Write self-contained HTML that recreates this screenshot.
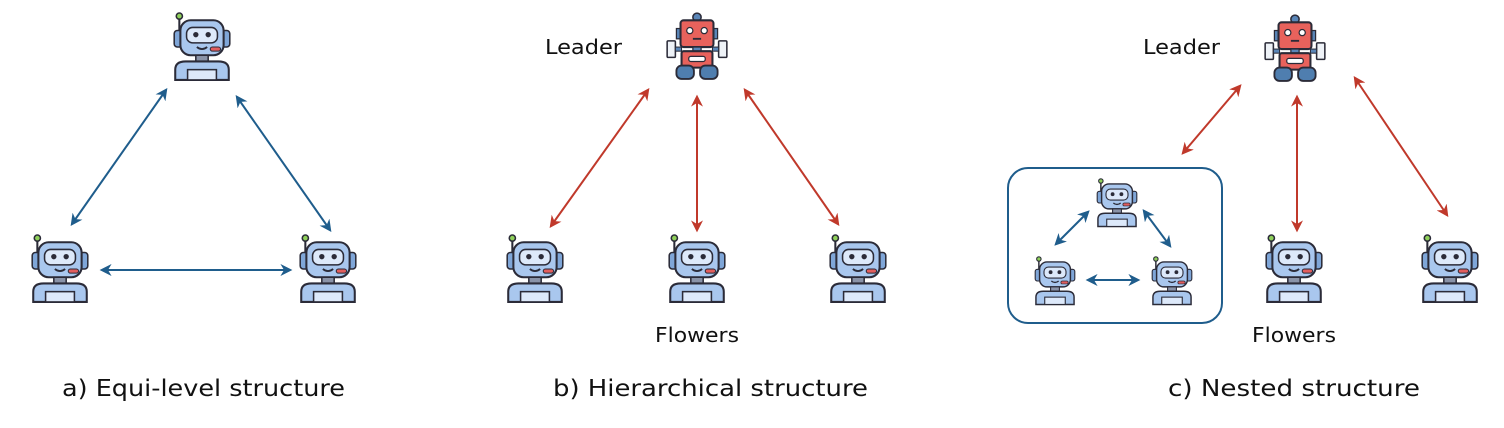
<!DOCTYPE html>
<html><head><meta charset="utf-8"><style>
html,body{margin:0;padding:0;background:#fff;}
svg{display:block}
text{font-family:"DejaVu Sans","Liberation Sans",sans-serif;fill:#111}
</style></head><body>
<svg width="1504" height="428" viewBox="0 0 1504 428" xmlns="http://www.w3.org/2000/svg">
<defs>
<marker id="ab" viewBox="0 0 10 10" refX="8" refY="5" markerWidth="6" markerHeight="6" orient="auto-start-reverse"><path d="M0,0L10,5L0,10L3,5z" fill="#1f5d8c"/></marker>
<marker id="ar" viewBox="0 0 10 10" refX="8" refY="5" markerWidth="6" markerHeight="6" orient="auto-start-reverse"><path d="M0,0L10,5L0,10L3,5z" fill="#c0392b"/></marker>
<symbol id="rb" viewBox="0 0 60 68">
<line x1="8" y1="4" x2="8" y2="18" stroke="#2b2b38" stroke-width="2"/>
<circle cx="8" cy="4" r="3" fill="#8fd05a" stroke="#2b2b38" stroke-width="1.5"/>
<rect x="3" y="18" width="8" height="16" rx="3" fill="#7fa6d8" stroke="#2b2b38" stroke-width="1.5"/>
<rect x="49" y="18" width="8" height="16" rx="3" fill="#7fa6d8" stroke="#2b2b38" stroke-width="1.5"/>
<rect x="9" y="8" width="42" height="34" rx="10" fill="#a9c7ee" stroke="#2b2b38" stroke-width="2"/>
<rect x="15" y="15" width="30" height="15" rx="6" fill="#dde9fa" stroke="#2b2b38" stroke-width="1.5"/>
<circle cx="24" cy="22" r="2.6" fill="#2b2b38"/><circle cx="36" cy="22" r="2.6" fill="#2b2b38"/>
<path d="M25 34 Q30 38 35 34" stroke="#2b2b38" stroke-width="1.8" fill="none"/>
<rect x="38" y="34" width="10" height="4" rx="2" fill="#e25d5d" stroke="#2b2b38" stroke-width="1"/>
<rect x="24" y="42" width="12" height="6" fill="#8a93a8" stroke="#2b2b38" stroke-width="1.5"/>
<path d="M4 66 V56 Q4 48 14 48 H46 Q56 48 56 56 V66 Z" fill="#a9c7ee" stroke="#2b2b38" stroke-width="2"/>
<rect x="16" y="56" width="28" height="10" fill="#dde9fa" stroke="#2b2b38" stroke-width="1.5"/>
</symbol>
<symbol id="rr" viewBox="0 0 64 68">
<circle cx="32" cy="7" r="4" fill="#5a86b8" stroke="#2b2b38" stroke-width="1.5"/>
<rect x="12" y="18" width="5" height="10" fill="#5a86b8" stroke="#2b2b38" stroke-width="1.2"/>
<rect x="47" y="18" width="5" height="10" fill="#5a86b8" stroke="#2b2b38" stroke-width="1.2"/>
<rect x="16" y="10" width="32" height="26" rx="3" fill="#e8625c" stroke="#2b2b38" stroke-width="2"/>
<circle cx="25" cy="20" r="3" fill="#fff" stroke="#2b2b38" stroke-width="1.2"/><circle cx="39" cy="20" r="3" fill="#fff" stroke="#2b2b38" stroke-width="1.2"/>
<line x1="28" y1="28" x2="36" y2="28" stroke="#2b2b38" stroke-width="1.8"/>
<rect x="28" y="36" width="8" height="4" fill="#5a86b8" stroke="#2b2b38" stroke-width="1.2"/>
<rect x="3" y="30" width="8" height="16" rx="1" fill="#eef2f7" stroke="#2b2b38" stroke-width="1.5"/>
<rect x="53" y="30" width="8" height="16" rx="1" fill="#eef2f7" stroke="#2b2b38" stroke-width="1.5"/>
<rect x="11" y="36" width="6" height="4" fill="#5a86b8" stroke="#2b2b38" stroke-width="1"/>
<rect x="47" y="36" width="6" height="4" fill="#5a86b8" stroke="#2b2b38" stroke-width="1"/>
<rect x="17" y="40" width="30" height="16" rx="2" fill="#e8625c" stroke="#2b2b38" stroke-width="2"/>
<rect x="24" y="45" width="16" height="5" rx="2" fill="#fff" stroke="#2b2b38" stroke-width="1.2"/>
<rect x="12" y="54" width="17" height="13" rx="5" fill="#4f7eaf" stroke="#2b2b38" stroke-width="1.8"/>
<rect x="35" y="54" width="17" height="13" rx="5" fill="#4f7eaf" stroke="#2b2b38" stroke-width="1.8"/>
</symbol>
</defs>
<g stroke="#1f5d8c" stroke-width="2" marker-start="url(#ab)" marker-end="url(#ab)">
<line x1="166" y1="90" x2="72" y2="224"/>
<line x1="237" y1="97" x2="330" y2="230"/>
<line x1="102" y1="270" x2="290" y2="270"/>
<line x1="1088" y1="212" x2="1056" y2="244"/>
<line x1="1144" y1="211" x2="1170" y2="246"/>
<line x1="1088" y1="280" x2="1138" y2="280"/>
</g>
<g stroke="#c0392b" stroke-width="2" marker-start="url(#ar)" marker-end="url(#ar)">
<line x1="648" y1="90" x2="551" y2="226"/>
<line x1="697" y1="97" x2="697" y2="230"/>
<line x1="745" y1="90" x2="838" y2="224"/>
<line x1="1240" y1="86" x2="1183" y2="153"/>
<line x1="1297" y1="97" x2="1297" y2="230"/>
<line x1="1355" y1="78" x2="1447" y2="215"/>
</g>
<rect x="1008" y="168" width="214" height="155" rx="20" fill="none" stroke="#1f5d8c" stroke-width="2"/>
<use href="#rb" x="170" y="12" width="64" height="70"/>
<use href="#rb" x="28" y="234" width="64" height="70"/>
<use href="#rb" x="296" y="234" width="64" height="70"/>
<use href="#rb" x="503" y="234" width="64" height="70"/>
<use href="#rb" x="665" y="234" width="64" height="70"/>
<use href="#rb" x="826" y="234" width="64" height="70"/>
<use href="#rb" x="1262" y="234" width="64" height="70"/>
<use href="#rb" x="1418" y="234" width="64" height="70"/>
<use href="#rb" x="1095" y="178" width="44" height="50"/>
<use href="#rb" x="1033" y="256" width="44" height="50"/>
<use href="#rb" x="1150" y="256" width="44" height="50"/>
<use href="#rr" x="664" y="10" width="66" height="70"/>
<use href="#rr" x="1262" y="12" width="66" height="70"/>
<text x="545" y="54" font-size="20" textLength="77" lengthAdjust="spacingAndGlyphs">Leader</text>
<text x="1143" y="54" font-size="20" textLength="77" lengthAdjust="spacingAndGlyphs">Leader</text>
<text x="655" y="342" font-size="20" textLength="84" lengthAdjust="spacingAndGlyphs">Flowers</text>
<text x="1252" y="342" font-size="20" textLength="84" lengthAdjust="spacingAndGlyphs">Flowers</text>
<text x="62" y="396" font-size="23" textLength="283" lengthAdjust="spacingAndGlyphs">a) Equi-level structure</text>
<text x="553" y="396" font-size="23" textLength="315" lengthAdjust="spacingAndGlyphs">b) Hierarchical structure</text>
<text x="1168" y="396" font-size="23" textLength="252" lengthAdjust="spacingAndGlyphs">c) Nested structure</text>
</svg>
</body></html>
